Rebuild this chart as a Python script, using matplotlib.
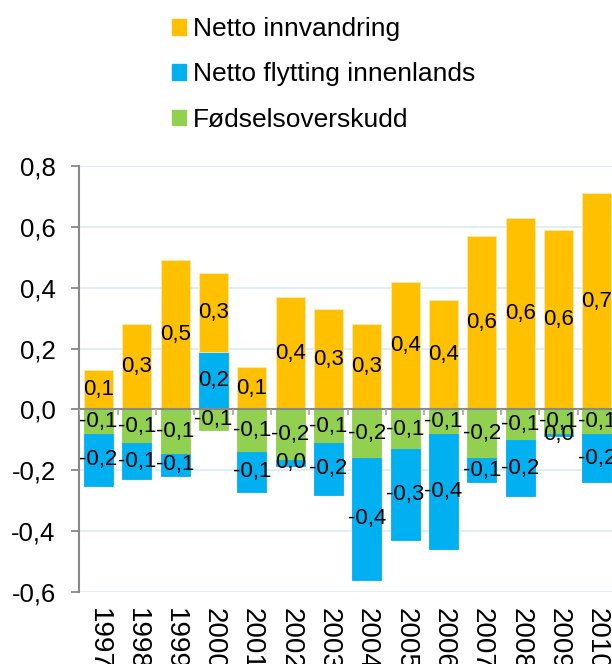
import numpy as np
import matplotlib
matplotlib.use('Agg')
import matplotlib.pyplot as plt
from matplotlib.patches import Patch
from matplotlib.ticker import FuncFormatter

plt.rcParams['font.family'] = ['Liberation Sans', 'DejaVu Sans']

years = ['1997', '1998', '1999', '2000', '2001', '2002', '2003',
         '2004', '2005', '2006', '2007', '2008', '2009', '2010']

# values (per cent)
innvandring = [0.13, 0.28, 0.49, 0.26, 0.14, 0.37, 0.33,
               0.28, 0.42, 0.36, 0.57, 0.63, 0.59, 0.71]
innenlands = [-0.17, -0.12, -0.075, 0.19, -0.13, -0.02, -0.17,
              -0.40, -0.30, -0.38, -0.08, -0.185, -0.006, -0.16]
fodsel = [-0.08, -0.11, -0.145, -0.067, -0.14, -0.165, -0.11,
          -0.16, -0.13, -0.08, -0.16, -0.10, -0.08, -0.08]

series = [('Fødselsoverskudd', fodsel, '#92D050'),
          ('Netto flytting innenlands', innenlands, '#00B0F0'),
          ('Netto innvandring', innvandring, '#FFC000')]

def comma(v):
    r = round(v, 1) + 0.0
    return f'{r:.1f}'.replace('.', ',')

fig = plt.figure(figsize=(6.12, 6.64), dpi=100)
ax = fig.add_axes([0.1296, 0.1084, 0.877, 0.6416])

x = np.arange(len(years))
pos = np.zeros(len(years))
neg = np.zeros(len(years))
for name, vals, col in series:
    vals = np.array(vals)
    base = np.where(vals >= 0, pos, neg)
    ax.bar(x, vals, 0.76, bottom=base, color=col, edgecolor='#fbe9b0' if col == '#FFC000' else col,
           linewidth=0.6, zorder=2)
    for xi, b, v in zip(x, base, vals):
        ax.text(xi, b + v / 2, comma(v), ha='center', va='center',
                fontsize=16, zorder=3)
    pos = np.where(vals >= 0, pos + vals, pos)
    neg = np.where(vals < 0, neg + vals, neg)

ax.set_xlim(-0.5, len(years) - 0.5)
ax.set_ylim(-0.6, 0.8)
ax.set_yticks(np.arange(-0.6, 0.81, 0.2))
ax.yaxis.set_major_formatter(FuncFormatter(lambda v, p: comma(v)))
ax.grid(axis='y', color='#dcedf4', linewidth=1.3, zorder=0)
ax.set_axisbelow(True)

for s in ['top', 'right', 'bottom']:
    ax.spines[s].set_visible(False)
ax.spines['left'].set_color('#888888')
ax.spines['left'].set_linewidth(1.5)
ax.tick_params(axis='y', length=6, width=1.3, color='#888888', pad=11, labelsize=18.5)

ax.set_xticks(x)
ax.set_xticklabels(years, rotation=270, fontsize=20)
ax.tick_params(axis='x', length=0, pad=11.5)

# zero line with category marks
ax.axhline(0, color='#888888', linewidth=1.5, zorder=4)
ax.vlines(np.arange(len(years) + 1) - 0.5, -0.018, 0, color='#aaaaaa', linewidth=1.3, zorder=4)

handles = [Patch(color=c) for _, _, c in reversed(series)]
labels = [n for n, _, _ in reversed(series)]
fig.legend(handles, labels, loc='upper left', bbox_to_anchor=(0.242, 1.01),
           frameon=False, fontsize=19, handlelength=0.55, handleheight=0.55,
           handletextpad=0.25, labelspacing=0.81)

fig.savefig('out.png', dpi=100)
